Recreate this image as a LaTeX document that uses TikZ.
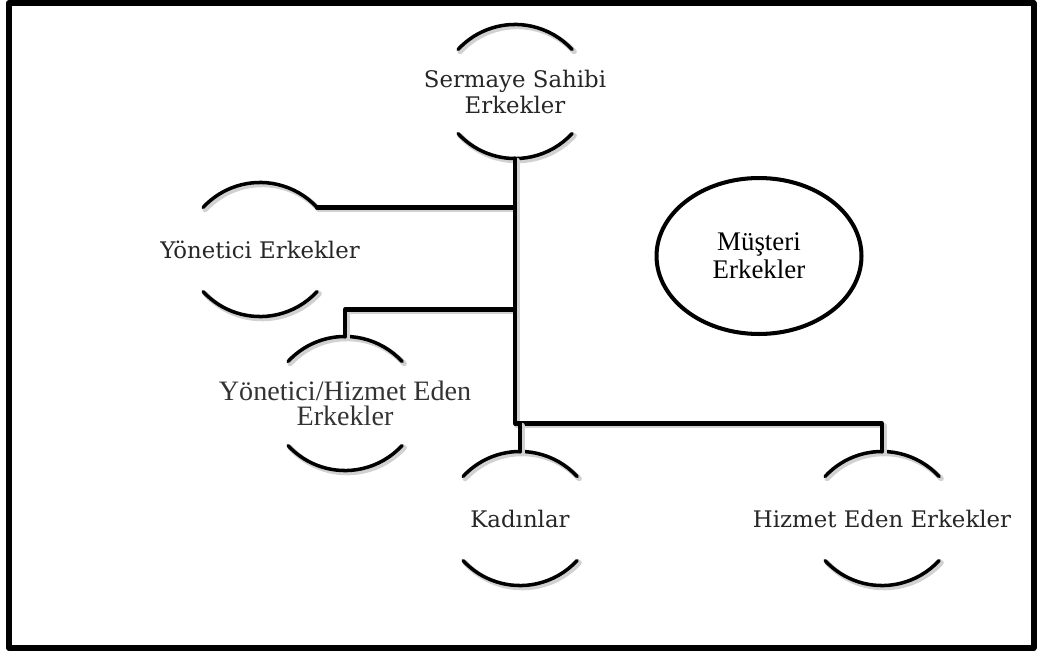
\documentclass[tikz,border=0pt]{standalone}
\usepackage{fontspec}
\setmainfont{DejaVu Serif}
\newfontfamily\timesfont{Liberation Serif}
\usetikzlibrary{shapes.geometric}
\tikzset{
	arcline/.style={line width=2pt,preaction={draw=black!18,line width=3pt,transform canvas={shift={(1.2pt,-1.2pt)}}}},
	link/.style={line width=2.4pt,preaction={draw=black!18,line width=3.2pt,transform canvas={shift={(1.2pt,-1.2pt)}}}},
	lbl/.style={align=center,text=black!85,font=\fontsize{13}{14.8}\selectfont},
	pics/ring/.style={code={
			\draw[arcline] (-57,-42) arc[start angle=-137.4,end angle=-42.6,radius=77.5];
			\draw[arcline] (-57,42) arc[start angle=137.4,end angle=42.6,radius=77.5];
			\coordinate (-top) at (0,-67);
			\coordinate (-bot) at (0,67);
			\coordinate (-ne) at (57,-42);
	}}
}
\begin{document}
\begin{tikzpicture}[line join=round,line cap=round,x=0.02cm,y=-0.02cm]
	\useasboundingbox (0,0) rectangle (1037,652);
	\draw[line width=3.4pt] (9,3) rectangle (1033.5,648);
	% gruplar
	\path (515,91.5) pic (serm) {ring} node[lbl] (sermaye) {Sermaye Sahibi\\Erkekler};
	\path (260,249.5) pic (yon) {ring} node[lbl] (yonetici) {Yönetici Erkekler};
	\path (345,403.5) pic (yh) {ring} node[lbl,text=black!80,font=\timesfont\fontsize{16}{14.5}\selectfont] (yonhiz) {Yönetici/Hizmet Eden\\Erkekler};
	\path (520,518.5) pic (kad) {ring} node[lbl] (kadin) {Kadınlar};
	\path (882,518.5) pic (hiz) {ring} node[lbl] (hizmet) {Hizmet Eden Erkekler};
	\node[ellipse,draw,line width=2.3pt,minimum width=4.1cm,minimum height=3.12cm,align=center,font=\timesfont\fontsize{15.3}{15.9}\selectfont] (musteri) at (759,256) {Müşteri\\Erkekler};
	% baglantilar
	\draw[link] (yon-ne)--(yon-ne -| serm-bot);
	\draw[link] (yh-top)--++(0,-27) coordinate (yhknee)--(yhknee -| serm-bot);
	\draw[link] (serm-bot)--++(0,265) coordinate (fork)--(fork -| hiz-top)--(hiz-top);
	\draw[link] (fork -| kad-top)--(kad-top);
\end{tikzpicture}
\end{document}
